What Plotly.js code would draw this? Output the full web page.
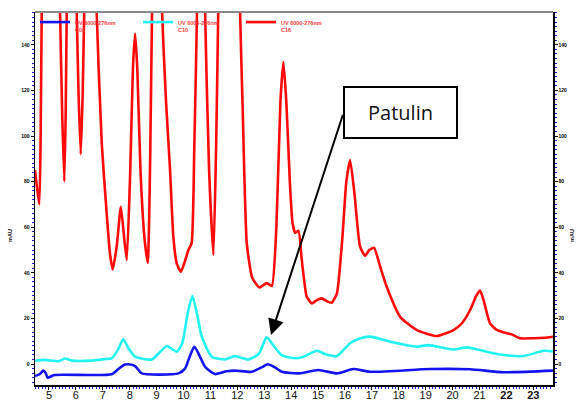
<!DOCTYPE html>
<html>
<head>
<meta charset="utf-8">
<script src="https://cdn.plot.ly/plotly-3.0.1.min.js"></script>
<style>html,body{margin:0;padding:0;background:#fff;}#chart{width:577px;height:403px;}</style>
</head>
<body>
<div id="chart"></div>
<script>
// ---- data (retention time in minutes, absorbance in mAU) ----
const seriesNames = ["UV 6000-276nm<br>C03", "UV 6000-276nm<br>C10", "UV 6000-276nm<br>C16"];

const blueTime = [4.48,4.65,4.79,4.88,4.95,5.20,7.33,7.60,7.80,7.95,
                  8.20,8.45,9.81,10.06,10.22,10.40,10.60,10.80,11.17,11.60,
                  11.91,12.54,12.90,13.13,13.40,13.65,14.30,15.01,15.70,16.31,
                  16.93,19.16,20.65,21.89,23.73];
const blueMAU  = [-5.3,-4.5,-2.9,-4.0,-6.0,-4.8,-4.5,-2.0,-0.3,-0.1,
                  -0.9,-4.1,-4.1,-1.9,3.0,7.6,3.5,-1.2,-4.4,-3.2,
                  -2.9,-3.4,-1.5,-0.1,-1.5,-3.4,-4.1,-2.6,-4.1,-2.2,
                  -3.4,-2.2,-2.3,-3.6,-2.9];

const cyanTime = [4.48,4.85,5.35,5.60,5.85,6.60,7.10,7.33,7.55,7.76,
                  7.95,8.20,8.82,9.10,9.38,9.55,9.75,9.95,10.15,10.33,
                  10.50,10.68,11.05,11.54,11.91,12.41,12.80,13.09,13.35,13.65,
                  14.15,14.46,14.95,15.30,15.70,16.19,16.50,16.93,17.68,18.67,
                  19.10,20.03,20.53,21.64,22.63,23.38,23.73];
const cyanMAU  = [1.4,1.8,1.2,2.4,1.5,1.5,2.2,2.5,6.0,10.8,
                  7.0,3.2,2.0,5.0,7.9,6.8,5.4,9.0,22.0,29.8,
                  22.0,12.0,3.2,2.0,3.5,2.0,4.5,11.7,8.0,3.9,
                  2.5,3.2,5.8,4.2,3.5,9.1,11.0,12.0,9.8,7.6,
                  8.3,6.4,7.3,4.4,3.5,5.8,5.5];

const redTime = [4.48,4.55,4.64,4.69,4.73,5.07,5.41,5.49,5.57,5.62,
                 5.66,5.85,6.03,6.10,6.18,6.25,6.31,6.54,6.77,6.96,
                 7.15,7.27,7.37,7.52,7.67,7.78,7.89,8.02,8.12,8.20,
                 8.28,8.40,8.55,8.67,8.76,8.83,9.02,9.20,9.35,9.50,
                 9.62,9.75,9.90,10.05,10.18,10.30,10.40,10.50,10.65,10.80,
                 10.95,11.11,11.21,11.29,11.70,12.10,12.20,12.35,12.55,12.82,
                 13.09,13.28,13.45,13.60,13.71,13.82,13.95,14.05,14.15,14.27,
                 14.40,14.58,14.77,14.95,15.14,15.33,15.51,15.70,15.90,16.05,
                 16.19,16.35,16.56,16.75,16.90,17.08,17.30,17.55,18.05,18.67,
                 19.41,20.03,20.35,20.65,20.88,21.02,21.15,21.39,21.64,22.02,
                 22.20,22.51,23.00,23.40,23.73];
const redMAU  = [85,78,70,100,155,420,155,110,80,110,
                 155,300,155,118,92,118,155,320,155,97,
                 65,48,41.5,52,69,57,45.6,85,130,145,
                 130,85,55,44.4,90,155,260,155,115,85,
                 56,44,40.5,45,50,53,95,155,330,155,
                 85,47.8,95,155,500,155,111,53,38,33.6,
                 35.5,34.2,60,115,132.6,115,80,62,57.5,58.5,
                 45,29.5,26.6,28,28.8,27.5,26.9,31,55,80,
                 89.5,75,51.5,47.4,50,51,43,33.9,20.7,14.9,
                 12.3,14.9,18,23.7,30,32.2,28,17.8,15,13.5,
                 13,11.3,11.3,11.5,12];

const xTickVals = [5,6,7,8,9,10,11,12,13,14,15,16,17,18,19,20,21,22,23];
const xTickText = ["5","6","7","8","9","10","11","12","13","14","15","16","17","18","19","20","21","<b>22</b>","<b>23</b>"];
const yTickVals = [0,20,40,60,80,100,120,140];

const peakLabel = "Patulin";
const peakTime = 13.25, peakMAU = 12.7;      // arrow tip (Patulin peak)
const labelTime = 15.94, labelMAU = 110;     // arrow tail at label box

// ---- chart ----
const xRange = [4.48, 23.73];
const yRange = [-9.2, 154.4];

const traces = [
  {x: blueTime, y: blueMAU, name: seriesNames[0], type: 'scatter', mode: 'lines',
   line: {color: '#1414f0', width: 2.6, shape: 'spline', smoothing: 0.6}},
  {x: cyanTime, y: cyanMAU, name: seriesNames[1], type: 'scatter', mode: 'lines',
   line: {color: '#22f2f2', width: 2.6, shape: 'spline', smoothing: 0.6}},
  {x: redTime, y: redMAU, name: seriesNames[2], type: 'scatter', mode: 'lines', yaxis: 'y2',
   line: {color: '#ff0a0a', width: 2.6, shape: 'spline', smoothing: 0.5}}
];

const yTickFont = {family: 'Liberation Sans', size: 5, color: '#000', weight: 'bold'};

const layout = {
  width: 577, height: 403,
  margin: {l: 35, r: 24, t: 12, b: 18, pad: 0},
  paper_bgcolor: '#fff', plot_bgcolor: '#fff',
  showlegend: true,
  legend: {orientation: 'h', x: 0.0, y: 1.0, xanchor: 'left', yanchor: 'top',
           bgcolor: 'rgba(0,0,0,0)', itemwidth: 30, entrywidth: 58, entrywidthmode: 'pixels',
           font: {family: 'Liberation Sans', size: 5.5, color: '#ff3a3a', weight: 'bold'},
           tracegroupgap: 0, valign: 'top'},
  xaxis: {range: xRange, showgrid: false, zeroline: false, showline: true, linecolor: '#000', linewidth: 1.5,
          tickmode: 'array', tickvals: xTickVals, ticktext: xTickText, ticks: 'outside', ticklen: 3,
          ticklabelstandoff: -4,
          tickcolor: '#000', tickfont: {family: 'Liberation Sans', size: 11, color: '#111'},
          minor: {dtick: 0.125, ticks: 'outside', ticklen: 2, tickcolor: '#1a1acc', showgrid: false},
          fixedrange: true},
  yaxis: {range: yRange, showgrid: false, zeroline: false, showline: true, linecolor: '#000', linewidth: 1.5,
          tickmode: 'array', tickvals: yTickVals, ticks: 'outside', ticklen: 3, tickcolor: '#000',
          tickfont: yTickFont,
          minor: {dtick: 2, tick0: 0, ticks: 'outside', ticklen: 2, tickcolor: '#1a1acc', showgrid: false},
          fixedrange: true},
  yaxis2: {range: yRange, overlaying: 'y', side: 'right', showgrid: false, zeroline: false, showline: true,
           linecolor: '#000', linewidth: 1.5, tickmode: 'array', tickvals: yTickVals, ticks: 'outside',
           ticklen: 3, tickcolor: '#000', tickfont: yTickFont,
           minor: {dtick: 2, tick0: 0, ticks: 'outside', ticklen: 2, tickcolor: '#1a1acc', showgrid: false},
           fixedrange: true},
  shapes: [
    {type: 'line', xref: 'paper', yref: 'paper', x0: 0, x1: 1, y0: 1, y1: 1,
     line: {color: '#8a8a8a', width: 2}}
  ],
  annotations: [
    {xref: 'paper', yref: 'paper', x: 0.7056, y: 0.7319, xanchor: 'center', yanchor: 'middle',
     text: peakLabel, showarrow: false, width: 111, height: 49, borderpad: 0,
     bordercolor: '#000', borderwidth: 2, bgcolor: '#fff',
     font: {family: 'Open Sans', size: 20, color: '#111'}},
    {x: peakTime, y: peakMAU, xref: 'x', yref: 'y', ax: labelTime, ay: labelMAU, axref: 'x', ayref: 'y',
     text: '', showarrow: true, arrowhead: 2, arrowsize: 1.6, arrowwidth: 2, arrowcolor: '#000', standoff: 0},
    {xref: 'paper', yref: 'paper', x: 0.52, y: -0.04, xanchor: 'center', yanchor: 'top',
     text: 'Minutes', showarrow: false, font: {family: 'Liberation Sans', size: 8, color: '#111'}},
    {xref: 'paper', yref: 'paper', x: -0.048, y: 0.40, xanchor: 'center', yanchor: 'middle',
     text: 'mAU', textangle: -90, showarrow: false, font: {family: 'Liberation Sans', size: 5.5, color: '#111', weight: 'bold'}},
    {xref: 'paper', yref: 'paper', x: 1.037, y: 0.40, xanchor: 'center', yanchor: 'middle',
     text: 'mAU', textangle: -90, showarrow: false, font: {family: 'Liberation Sans', size: 5.5, color: '#111', weight: 'bold'}}
  ]
};

Plotly.newPlot('chart', traces, layout, {displayModeBar: false, staticPlot: true});
</script>
</body>
</html>
